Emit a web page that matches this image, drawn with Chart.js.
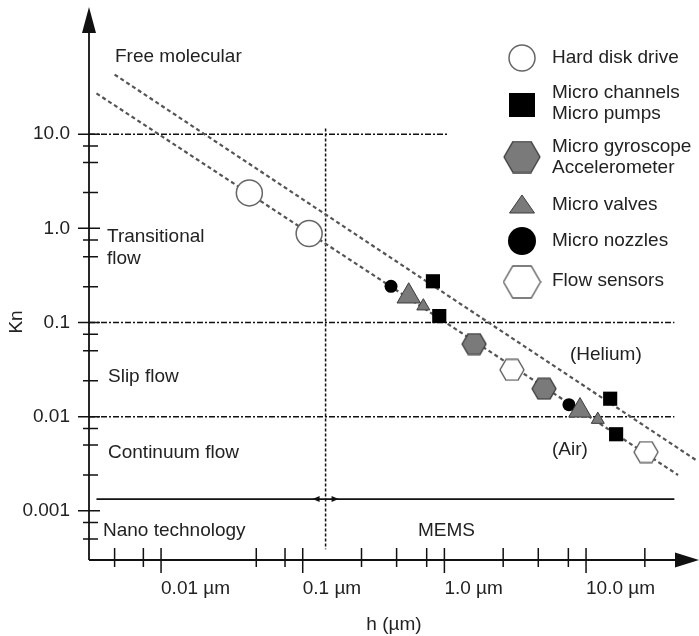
<!DOCTYPE html>
<html>
<head>
<meta charset="utf-8">
<script src="https://cdn.jsdelivr.net/npm/chart.js@4.4.0/dist/chart.umd.min.js"></script>
<style>
  html, body { margin: 0; padding: 0; background: #fff; }
  #wrap { width: 699px; height: 636px; position: relative; }
</style>
</head>
<body>
<div id="wrap"><canvas id="knChart"></canvas></div>
<script>
// values: h in µm, Kn dimensionless
const hddH = [0.042, 0.111];
const hddKn = [2.38, 0.88];
const channelH = [0.83, 0.92, 14.8, 16.3];
const channelKn = [0.274, 0.117, 0.0155, 0.0065];
const gyroH = [1.62, 5.05];
const gyroKn = [0.059, 0.0198];
const valveH = [0.56, 0.71, 9.06, 12.1];
const valveKn = [0.19, 0.149, 0.0116, 0.0093];
const nozzleH = [0.42, 7.57];
const nozzleKn = [0.242, 0.0134];
const flowH = [3.0, 26.5];
const flowKn = [0.0314, 0.0042];
const airH = [0.0035, 44.6];
const airKn = [27.1, 0.0024];
const heliumH = [0.0047, 60.7];
const heliumKn = [43.0, 0.0034];

// axes
const xMajor = [0.01, 0.1, 1, 10];
const xMajorLabels = ['0.01 µm', '0.1 µm', '1.0 µm', '10.0 µm'];
const xMinor = [0.0047, 0.0075, 0.047, 0.075, 0.26, 0.46, 0.75, 2.6, 4.6, 7.5, 26];
const yMajor = [10, 1, 0.1, 0.01, 0.001];
const yMajorLabels = ['10.0', '1.0', '0.1', '0.01', '0.001'];
const yMinor = [7.5, 5, 2.4, 0.75, 0.5, 0.24, 0.075, 0.05, 0.024, 0.0075, 0.005, 0.0024, 0.00075, 0.0005];

// regime boundaries
const regimeKn = [10, 0.1, 0.01];
const regimeEndH = [1.05, 42, 42];
const memsH = 0.145;
const memsLineKn = 0.00133;

const FONT = '19px "Liberation Sans", Arial, sans-serif';
const GRAY = '#7a7a7a';
const DARK = '#3c3c3c';

const pts = (xs, ys) => xs.map((v, i) => ({ x: v, y: ys[i] }));

function hexImage(w, fill, stroke) {
    const c = document.createElement('canvas');
    const h = Math.round(w * 0.866);
    c.width = w + 2;
    c.height = h + 2;
    const g = c.getContext('2d');
    const cx = c.width / 2, cy = c.height / 2, r = w / 2;
    g.beginPath();
    for (let k = 0; k < 6; k++) {
        const a = Math.PI / 3 * k;
        g.lineTo(cx + r * Math.cos(a), cy + r * Math.sin(a));
    }
    g.closePath();
    g.fillStyle = fill;
    g.fill();
    g.lineWidth = 1.3;
    g.strokeStyle = stroke;
    g.stroke();
    return c;
}

const hexGray = hexImage(24, GRAY, DARK);
const hexWhite = hexImage(24, '#fff', '#555');
const hexGrayBig = hexImage(36, GRAY, DARK);
const hexWhiteBig = hexImage(37, '#fff', '#555');

function drawMarker(ctx, kind, x, y) {
    ctx.save();
    ctx.setLineDash([]);
    ctx.beginPath();
    if (kind === 'hdd') {
        ctx.arc(x, y, 13, 0, Math.PI * 2);
        ctx.fillStyle = '#fff'; ctx.fill();
        ctx.lineWidth = 1.5; ctx.strokeStyle = '#666'; ctx.stroke();
    } else if (kind === 'channel') {
        ctx.fillStyle = '#000';
        ctx.fillRect(x - 13, y - 12, 26, 24);
    } else if (kind === 'gyro') {
        ctx.drawImage(hexGrayBig, x - hexGrayBig.width / 2, y - hexGrayBig.height / 2);
    } else if (kind === 'valve') {
        ctx.moveTo(x, y - 10); ctx.lineTo(x + 12.5, y + 8); ctx.lineTo(x - 12.5, y + 8);
        ctx.closePath();
        ctx.fillStyle = GRAY; ctx.fill();
        ctx.lineWidth = 1; ctx.strokeStyle = DARK; ctx.stroke();
    } else if (kind === 'nozzle') {
        ctx.arc(x, y, 14, 0, Math.PI * 2);
        ctx.fillStyle = '#000'; ctx.fill();
    } else if (kind === 'flow') {
        ctx.drawImage(hexWhiteBig, x - hexWhiteBig.width / 2, y - hexWhiteBig.height / 2);
    }
    ctx.restore();
}

// legend rows: marker centre y, first text line y
const legendRows = [
    { kind: 'hdd', my: 58, ty: 58 },
    { kind: 'channel', my: 105, ty: 93 },
    { kind: 'gyro', my: 157, ty: 147 },
    { kind: 'valve', my: 205, ty: 205 },
    { kind: 'nozzle', my: 241, ty: 241 },
    { kind: 'flow', my: 282, ty: 281 }
];

const figurePlugin = {
    id: 'figure',
    beforeDatasetsDraw(chart) {
        const { ctx } = chart;
        const x = chart.scales.x, y = chart.scales.y;
        ctx.save();
        ctx.strokeStyle = '#111';
        ctx.lineWidth = 1.5;
        ctx.setLineDash([6, 2, 2, 2]);
        regimeKn.forEach((kn, i) => {
            const py = y.getPixelForValue(kn);
            ctx.beginPath();
            ctx.moveTo(x.left, py);
            ctx.lineTo(x.getPixelForValue(regimeEndH[i]), py);
            ctx.stroke();
        });
        // nano / MEMS divider
        ctx.setLineDash([3, 2]);
        const vx = x.getPixelForValue(memsH);
        ctx.beginPath();
        ctx.moveTo(vx, y.getPixelForValue(11.5));
        ctx.lineTo(vx, y.getPixelForValue(0.00039));
        ctx.stroke();

        ctx.setLineDash([]);
        ctx.lineWidth = 1.6;
        const ly = y.getPixelForValue(memsLineKn);
        ctx.beginPath();
        ctx.moveTo(x.getPixelForValue(0.0035), ly);
        ctx.lineTo(x.getPixelForValue(42), ly);
        ctx.stroke();
        ctx.fillStyle = '#111';
        ctx.beginPath();
        ctx.moveTo(vx - 13, ly); ctx.lineTo(vx - 6, ly - 3); ctx.lineTo(vx - 6, ly + 3); ctx.closePath();
        ctx.moveTo(vx + 13, ly); ctx.lineTo(vx + 6, ly - 3); ctx.lineTo(vx + 6, ly + 3); ctx.closePath();
        ctx.fill();
        ctx.restore();
    },
    afterDraw(chart) {
        const { ctx } = chart;
        const x = chart.scales.x, y = chart.scales.y;
        const ax = x.left, ay = y.bottom;
        ctx.save();
        ctx.strokeStyle = '#111';
        ctx.fillStyle = '#111';
        ctx.lineWidth = 1.8;
        // axis lines and arrow heads
        ctx.beginPath();
        ctx.moveTo(ax, ay); ctx.lineTo(ax, 20);
        ctx.moveTo(ax, ay); ctx.lineTo(682, ay);
        ctx.stroke();
        ctx.beginPath();
        ctx.moveTo(ax, 7); ctx.lineTo(ax + 7, 33); ctx.lineTo(ax - 7, 33); ctx.closePath();
        ctx.moveTo(699, ay); ctx.lineTo(675, ay - 7.5); ctx.lineTo(675, ay + 7.5); ctx.closePath();
        ctx.fill();
        // tick marks
        ctx.lineWidth = 1.5;
        ctx.beginPath();
        yMajor.forEach(v => { const p = y.getPixelForValue(v); ctx.moveTo(ax - 11, p); ctx.lineTo(ax + 11, p); });
        yMinor.forEach(v => { const p = y.getPixelForValue(v); ctx.moveTo(ax - 6, p); ctx.lineTo(ax + 9, p); });
        xMajor.forEach(v => { const p = x.getPixelForValue(v); ctx.moveTo(p, ay - 12); ctx.lineTo(p, ay + 13); });
        xMinor.forEach(v => { const p = x.getPixelForValue(v); ctx.moveTo(p, ay - 12); ctx.lineTo(p, ay + 7); });
        ctx.stroke();

        // region texts
        ctx.font = FONT;
        ctx.fillStyle = '#222';
        ctx.textBaseline = 'middle';
        ctx.textAlign = 'left';
        ctx.fillText('Free molecular', 115, 57);
        ctx.fillText('Transitional', 107, 237);
        ctx.fillText('flow', 107, 259);
        ctx.fillText('Slip flow', 108, 377);
        ctx.fillText('Continuum flow', 108, 453);
        ctx.fillText('Nano technology', 103, 531);
        ctx.fillText('MEMS', 418, 531);
        ctx.fillText('(Helium)', 570, 355);
        ctx.fillText('(Air)', 552, 450);

        // y title
        ctx.save();
        ctx.translate(17, 322);
        ctx.rotate(-Math.PI / 2);
        ctx.textAlign = 'center';
        ctx.fillText('Kn', 0, 0);
        ctx.restore();

        // legend from the point datasets
        const pointSets = chart.data.datasets.filter(d => !d.showLine);
        pointSets.forEach((d, i) => {
            const row = legendRows[i];
            drawMarker(ctx, row.kind, 522, row.my);
            d.label.split('\n').forEach((line, k) => {
                ctx.fillStyle = '#222';
                ctx.fillText(line, 552, row.ty + k * 21);
            });
        });
        ctx.restore();
    }
};

new Chart(document.getElementById('knChart'), {
    type: 'scatter',
    data: {
        datasets: [
            {
                label: 'Hard disk drive', data: pts(hddH, hddKn),
                pointStyle: 'circle', pointRadius: 13,
                backgroundColor: '#fff', borderColor: '#666', borderWidth: 1.5, order: 1
            },
            {
                label: 'Micro channels\nMicro pumps', data: pts(channelH, channelKn),
                pointStyle: 'rect', pointRadius: 10,
                backgroundColor: '#000', borderColor: '#000', borderWidth: 0, order: 1
            },
            {
                label: 'Micro gyroscope\nAccelerometer', data: pts(gyroH, gyroKn),
                pointStyle: hexGray, order: 1
            },
            {
                label: 'Micro valves', data: pts(valveH, valveKn),
                pointStyle: 'triangle', pointRadius: [13.5, 7.5, 13, 7.5],
                backgroundColor: GRAY, borderColor: DARK, borderWidth: 1, order: 1
            },
            {
                label: 'Micro nozzles', data: pts(nozzleH, nozzleKn),
                pointStyle: 'circle', pointRadius: 6.5,
                backgroundColor: '#000', borderColor: '#000', borderWidth: 0, order: 1
            },
            {
                label: 'Flow sensors', data: pts(flowH, flowKn),
                pointStyle: hexWhite, order: 1
            },
            {
                label: 'Air', data: pts(airH, airKn), showLine: true,
                borderColor: '#555', borderWidth: 2.2, borderDash: [4, 3], pointRadius: 0, order: 5
            },
            {
                label: 'Helium', data: pts(heliumH, heliumKn), showLine: true,
                borderColor: '#555', borderWidth: 2.2, borderDash: [4, 3], pointRadius: 0, order: 5
            }
        ]
    },
    options: {
        responsive: true,
        maintainAspectRatio: false,
        animation: false,
        events: [],
        layout: { autoPadding: false, padding: { top: 8, right: 0, left: 0, bottom: 0 } },
        plugins: { legend: { display: false }, tooltip: { enabled: false } },
        scales: {
            x: {
                type: 'logarithmic',
                min: 0.0031, max: 62.7,
                grid: { display: false, drawTicks: false },
                border: { display: false },
                afterBuildTicks: (s) => { s.ticks = xMajor.map(v => ({ value: v })); },
                afterFit: (s) => { s.height = 76; s.paddingLeft = 0; s.paddingRight = 0; },
                ticks: {
                    autoSkip: false, maxRotation: 0, align: 'start', padding: 17,
                    color: '#222', font: { family: '"Liberation Sans", Arial, sans-serif', size: 19 },
                    callback: (v) => { const i = xMajor.indexOf(v); return i >= 0 ? xMajorLabels[i] : ''; }
                },
                title: {
                    display: true, text: 'h (µm)', color: '#222', padding: { top: 0, bottom: 0 },
                    font: { family: '"Liberation Sans", Arial, sans-serif', size: 19 }
                }
            },
            y: {
                type: 'logarithmic',
                min: 0.000323, max: 219,
                grid: { display: false, drawTicks: false },
                border: { display: false },
                afterBuildTicks: (s) => { s.ticks = yMajor.map(v => ({ value: v })); },
                afterFit: (s) => { s.width = 89; s.paddingTop = 0; s.paddingBottom = 0; },
                ticks: {
                    autoSkip: false, padding: 19,
                    color: '#222', font: { family: '"Liberation Sans", Arial, sans-serif', size: 19 },
                    callback: (v) => { const i = yMajor.indexOf(v); return i >= 0 ? yMajorLabels[i] : ''; }
                }
            }
        }
    },
    plugins: [figurePlugin]
});
</script>
</body>
</html>
